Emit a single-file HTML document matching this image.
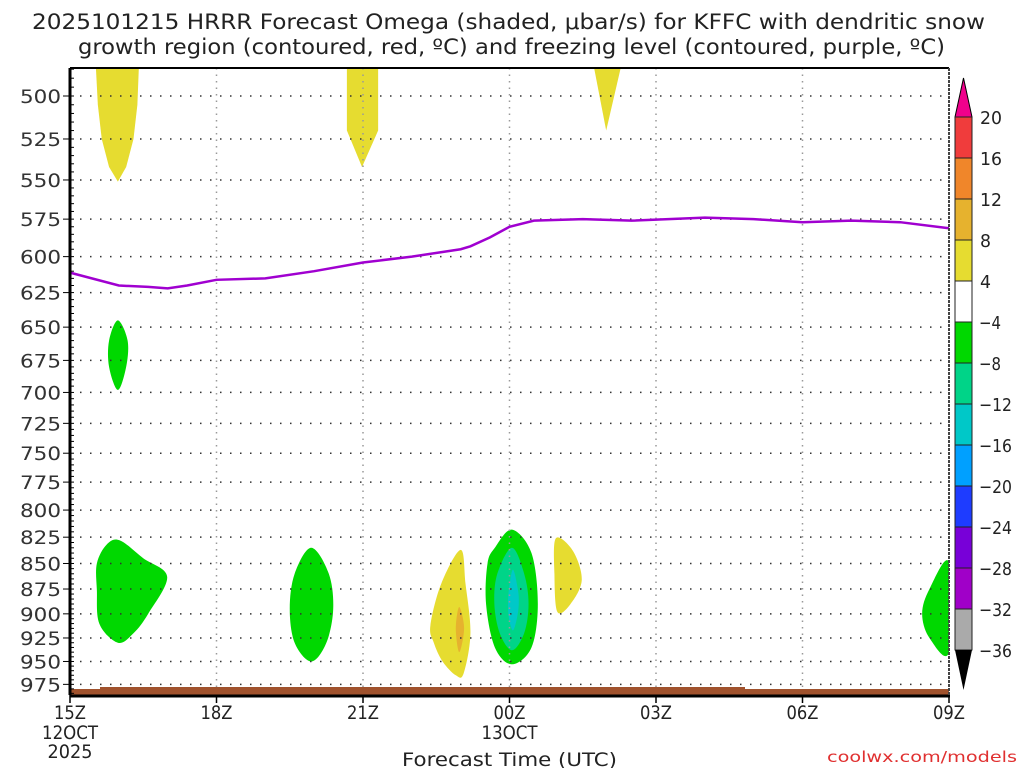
<!DOCTYPE html>
<html><head><meta charset="utf-8"><style>
body{margin:0;background:#fff;}
svg{display:block;font-family:"DejaVu Sans","Liberation Sans",sans-serif;}
</style></head><body>
<svg id="chart" width="1024" height="768" viewBox="0 0 1024 768">
<text x="32" y="29" font-size="21" textLength="953" lengthAdjust="spacingAndGlyphs" fill="#222">2025101215 HRRR Forecast Omega (shaded, μbar/s) for KFFC with dendritic snow</text>
<text x="78" y="54" font-size="21" textLength="867" lengthAdjust="spacingAndGlyphs" fill="#222">growth region (contoured, red, ºC) and freezing level (contoured, purple, ºC)</text>
<g id="plot"></g>
<g id="cbar"></g>
<text x="402" y="766" font-size="19" textLength="215" lengthAdjust="spacingAndGlyphs" fill="#222">Forecast Time (UTC)</text>
<text x="827" y="762" font-size="15" textLength="190" lengthAdjust="spacingAndGlyphs" fill="#e03030">coolwx.com/models</text>
</svg>
<script>
// ---- data ----
const pressureTicks=[500,525,550,575,600,625,650,675,700,725,750,775,800,825,850,875,900,925,950,975];
const timeTickHours=[0,3,6,9,12,15,18];
const timeTickLabels=["15Z","18Z","21Z","00Z","03Z","06Z","09Z"];
const freezeHours=[0,1,1.6,2,2.4,3,4,5,6,7,8,8.2,8.6,9,9.5,10.5,11.5,13,14,15,16,17,18];
const freezePres=[611,620,621,622,620,616,615,610,604,600,595,593,587,580,576,575,576,574,575,577,576,577,581];
const cbarLevels=[20,16,12,8,4,-4,-8,-12,-16,-20,-24,-28,-32,-36];
const cbarColors=["#f03c3c","#f0862a","#e6b22e","#e6dc30","#ffffff","#00d800","#00d488","#00c8c8","#00a0ff","#1e3cff","#7800d8","#a000c8","#aaaaaa"];
const regionColor=["#e6dc30","#e6dc30","#e6dc30","#00d800","#00d800","#00d800","#e6dc30","#e6b22e","#00d800","#00d488","#00c8c8","#e6dc30","#00d800"];
const regionSmooth=[0,0,0,1,1,1,1,1,1,1,1,1,1];
const regionHours=[
[0.53,1.41,1.38,1.3,1.15,0.98,0.8,0.65,0.57],
[5.67,6.31,6.31,5.98,5.67],
[10.73,11.28,10.98],
[0.98,1.18,1.15,0.98,0.8,0.8],
[0.55,0.75,1.02,1.5,1.99,1.6,1.3,0.98,0.6,0.55],
[4.94,5.3,5.39,5.25,4.94,4.6,4.5,4.6],
[8.0,8.1,8.2,8.06,7.9,7.63,7.45,7.38,7.6],
[7.97,8.07,7.97,7.9],
[9.05,9.45,9.58,9.45,9.05,8.7,8.52,8.55,8.7],
[9.05,9.3,9.39,9.3,9.05,8.8,8.69,8.75],
[9.07,9.17,9.19,9.15,9.07,8.99,8.97,8.99],
[9.95,10.3,10.48,10.25,9.98,9.92],
[18,17.6,17.45,17.6,18]];
const regionPres=[
[484,484,505,525,542,551,542,525,505],
[484,484,520,542,520],
[484,484,520],
[645,660,680,698,680,660],
[850,832,828,845,863,900,920,930,910,876],
[835,860,895,930,950,930,895,860],
[837,870,920,963,965,950,930,912,870],
[893,915,940,915],
[818,840,890,935,953,935,890,850,835],
[835,860,890,920,938,920,890,860],
[856,875,890,905,917,905,890,875],
[826,838,866,890,898,860],
[849,875,900,925,940]];
// ---- axes ----
const X0=70,X1=949,Y0=68,Y1=695;
const xs=h=>X0+h*(X1-X0)/18;
const ys=p=>96+881*Math.log(p/500);
const NS="http://www.w3.org/2000/svg";
function mk(tag,attrs,parent){const e=document.createElementNS(NS,tag);for(const k in attrs)e.setAttribute(k,attrs[k]);parent.appendChild(e);return e;}
function smoothPath(P){const n=P.length;let d=`M${P[0][0]},${P[0][1]}`;
 for(let i=0;i<n;i++){const p0=P[(i-1+n)%n],p1=P[i],p2=P[(i+1)%n],p3=P[(i+2)%n];
  const c1=[p1[0]+(p2[0]-p0[0])/6,p1[1]+(p2[1]-p0[1])/6],c2=[p2[0]-(p3[0]-p1[0])/6,p2[1]-(p3[1]-p1[1])/6];
  d+=`C${c1[0]},${c1[1]} ${c2[0]},${c2[1]} ${p2[0]},${p2[1]}`;}
 return d+"Z";}
const plot=document.getElementById('plot');
const svg=document.getElementById('chart');
const clip=mk('clipPath',{id:'pc'},mk('defs',{},svg));
mk('rect',{x:X0,y:Y0,width:X1-X0,height:Y1-Y0},clip);
const shade=mk('g',{"clip-path":"url(#pc)"},plot);
regionHours.forEach((hs,i)=>{
  const P=hs.map((h,j)=>[xs(h),ys(regionPres[i][j])]);
  let el;
  if(regionSmooth[i]) el=mk('path',{d:smoothPath(P),fill:regionColor[i]},shade);
  else el=mk('polygon',{points:P.map(p=>p.join(",")).join(" "),fill:regionColor[i]},shade);
  
  
});
pressureTicks.forEach(p=>{
  const y=ys(p);
  const g=mk('line',{x1:X0,x2:X1,y1:y,y2:y,stroke:"#333","stroke-width":1.5,"stroke-dasharray":"1.5 8.5"},plot);
  
  
  const t=mk('text',{x:20,y:y+7,"font-size":19,textLength:41,lengthAdjust:"spacingAndGlyphs",fill:"#333"},svg);
  t.textContent=p;
  
  
  mk('line',{x1:63,x2:70,y1:y,y2:y,stroke:"#000"},svg);
});
for(let p=485;p<=985;p+=5){const y=ys(p);if(y>Y0&&y<Y1)mk('line',{x1:70,x2:74,y1:y,y2:y,stroke:"#000"},svg);}
timeTickHours.forEach((h,i)=>{
  const x=xs(h);
  if(i>0&&i<6){const g=mk('line',{x1:x,x2:x,y1:Y0,y2:Y1,stroke:"#999","stroke-width":1.5,"stroke-dasharray":"1.5 5"},plot);
  
  }
  mk('line',{x1:x,x2:x,y1:Y1,y2:Y1+8,stroke:"#000","stroke-width":1.5},svg);
  const t=mk('text',{x:x-16,y:719,"font-size":19,textLength:32,lengthAdjust:"spacingAndGlyphs",fill:"#222"},svg);
  t.textContent=timeTickLabels[i];
  
  
});
[["12OCT",xs(0),739,56],["2025",xs(0),758,45],["13OCT",xs(9),739,56]].forEach(a=>{
  const t=mk('text',{x:a[1]-a[3]/2,y:a[2],"font-size":19,textLength:a[3],lengthAdjust:"spacingAndGlyphs",fill:"#222"},svg);t.textContent=a[0];
  
  
});
const terr=mk('polygon',{points:`${X0},689 100,689 100,687 745,687 745,689 ${X1},689 ${X1},${Y1} ${X0},${Y1}`,fill:"#a0522d"},plot);


const fl=mk('polyline',{points:freezeHours.map((h,i)=>xs(h)+","+ys(freezePres[i])).join(" "),fill:"none",stroke:"#a000d0","stroke-width":2.5},plot);


mk('line',{x1:X0,x2:X1,y1:Y0,y2:Y0,stroke:"#000","stroke-width":2},svg);
mk('line',{x1:X0,x2:X1+1,y1:Y1+1,y2:Y1+1,stroke:"#000","stroke-width":3},svg);
mk('line',{x1:X0,x2:X0,y1:Y0,y2:Y1,stroke:"#000","stroke-width":3},svg);
mk('line',{x1:X1,x2:X1,y1:Y0,y2:Y1,stroke:"#444","stroke-width":2,"stroke-dasharray":"3 1"},svg);
const cb=document.getElementById('cbar');
const CB0=117,CB1=650,seg=(CB1-CB0)/cbarColors.length;
mk('polygon',{points:`955,${CB0} 972,${CB0} 963.5,78`,fill:"#f0008c",stroke:"#000"},cb);
cbarColors.forEach((c,i)=>{
  const r=mk('rect',{x:955,y:CB0+i*seg,width:17,height:seg,fill:c,stroke:"#222","stroke-width":1},cb);
  
  
});
mk('polygon',{points:`955,${CB1} 972,${CB1} 963.5,690`,fill:"#000"},cb);
cbarLevels.forEach((v,i)=>{
  const y=CB0+i*seg;
  const s=v<0?"\u2212"+(-v):String(v);
  const t=mk('text',{x:v<0?979:980,y:y+7,"font-size":18,textLength:s.length*11,lengthAdjust:"spacingAndGlyphs",fill:"#222"},cb);
  t.textContent=s;
  
  
});
</script>
</body></html>
